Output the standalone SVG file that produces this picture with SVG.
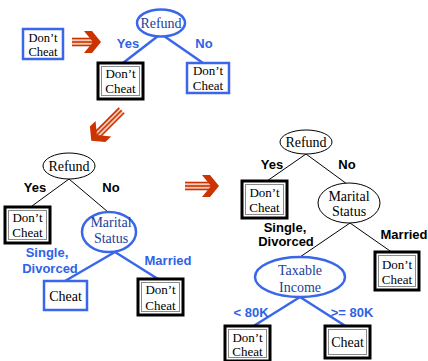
<svg xmlns="http://www.w3.org/2000/svg" width="428" height="361" viewBox="0 0 428 361">
<style>
.bb{fill:#fff;stroke:#3a66ea;stroke-width:2.5}
.kb{fill:#fff;stroke:#000;stroke-width:3}
.kbi{fill:none;stroke:#8a8a8a;stroke-width:1}
.be{fill:#fff;stroke:#3a66ea;stroke-width:2.5}
.ke{fill:#fff;stroke:#000;stroke-width:1}
.t{font-family:"Liberation Serif","Times New Roman",serif;font-size:13px;text-anchor:middle;fill:#000}
.t12{font-size:12.5px}
.t14{font-size:14px}
.tb{fill:#22409a}
.lb{font-family:"Liberation Sans",Arial,sans-serif;font-weight:bold;font-size:13px;text-anchor:middle;fill:#2f62e6}
.lk{fill:#000}
.bl{stroke:#3a66ea;stroke-width:2.5;fill:none}
.kl{stroke:#000;stroke-width:1;fill:none}
.sh{stroke:#cc3300;stroke-width:1.6}
.shf{fill:#f4c9b6}
.hd{fill:#cc3300}
</style>
<defs>
<polygon id="head" points="-16,-11 -8,-11 1,0 -8,11 -16,11 -7,0"/>
</defs>

<g id="connectors">
<line class="bl" x1="158" y1="36" x2="123" y2="63"/>
<line class="bl" x1="164" y1="36" x2="203" y2="63"/>
<line class="kl" x1="69" y1="179" x2="32" y2="206"/>
<line class="kl" x1="69" y1="179" x2="108" y2="212"/>
<line class="bl" x1="115" y1="252" x2="65" y2="281"/>
<line class="bl" x1="115" y1="252" x2="158" y2="279"/>
<line class="kl" x1="306" y1="154" x2="267" y2="181"/>
<line class="kl" x1="306" y1="154" x2="347" y2="184"/>
<line class="kl" x1="350" y1="223" x2="300" y2="257"/>
<line class="kl" x1="350" y1="223" x2="393" y2="253"/>
<line class="bl" x1="300" y1="297" x2="252" y2="327"/>
<line class="bl" x1="300" y1="297" x2="347" y2="327"/>
</g>

<g id="arrows">
<g transform="translate(100,42)">
<rect class="shf" x="-28" y="-4" width="21" height="8"/>
<line class="sh" x1="-28" y1="-3.5" x2="-7" y2="-3.5"/>
<line class="sh" x1="-28" y1="0" x2="-7" y2="0"/>
<line class="sh" x1="-28" y1="3.5" x2="-7" y2="3.5"/>
<use href="#head" class="hd"/>
</g>
<g transform="translate(92,140) rotate(135)">
<rect class="shf" x="-42" y="-4" width="35" height="8"/>
<line class="sh" x1="-42" y1="-3.5" x2="-7" y2="-3.5"/>
<line class="sh" x1="-42" y1="0" x2="-7" y2="0"/>
<line class="sh" x1="-42" y1="3.5" x2="-7" y2="3.5"/>
<use href="#head" class="hd"/>
</g>
<g transform="translate(218,186)">
<rect class="shf" x="-33" y="-4" width="26" height="8"/>
<line class="sh" x1="-33" y1="-3.5" x2="-7" y2="-3.5"/>
<line class="sh" x1="-33" y1="0" x2="-7" y2="0"/>
<line class="sh" x1="-33" y1="3.5" x2="-7" y2="3.5"/>
<use href="#head" class="hd"/>
</g>
</g>

<g id="labels">
<text class="lb" x="128" y="48">Yes</text>
<text class="lb" x="204" y="48">No</text>
<text class="lb lk" x="35" y="192">Yes</text>
<text class="lb lk" x="111" y="192">No</text>
<text class="lb" x="47" y="257">Single,</text>
<text class="lb" x="50" y="273">Divorced</text>
<text class="lb" x="168" y="265">Married</text>
<text class="lb lk" x="272" y="169">Yes</text>
<text class="lb lk" x="347" y="169">No</text>
<text class="lb lk" x="285" y="232">Single,</text>
<text class="lb lk" x="286" y="246">Divorced</text>
<text class="lb lk" x="404" y="239">Married</text>
<text class="lb" x="251" y="317">&lt; 80K</text>
<text class="lb" x="352" y="317">&gt;= 80K</text>
</g>

<g id="n-start">
<rect class="bb" x="23" y="29" width="40" height="30"/>
<text class="t t12" x="43" y="41.5">Don’t</text>
<text class="t t12" x="43" y="55.5">Cheat</text>
</g>

<g id="t1-refund">
<ellipse class="be" cx="161" cy="23" rx="24" ry="13.5"/>
<text class="t t14 tb" x="161" y="28">Refund</text>
</g>
<g id="t1-yes">
<rect class="kb" x="98" y="63" width="45" height="36"/>
<rect class="kbi" x="101.5" y="66.5" width="38" height="29"/>
<text class="t" x="120.5" y="78">Don’t</text>
<text class="t" x="120.5" y="93">Cheat</text>
</g>
<g id="t1-no">
<rect class="bb" x="187" y="63" width="42" height="30"/>
<text class="t" x="208" y="75">Don’t</text>
<text class="t" x="208" y="90">Cheat</text>
</g>

<g id="t2-refund">
<ellipse class="ke" cx="69" cy="166" rx="26" ry="13"/>
<text class="t t14" x="69" y="171">Refund</text>
</g>
<g id="t2-yes">
<rect class="kb" x="5" y="207" width="45" height="36"/>
<rect class="kbi" x="8.5" y="210.5" width="38" height="29"/>
<text class="t" x="27.5" y="222">Don’t</text>
<text class="t" x="27.5" y="237">Cheat</text>
</g>
<g id="t2-marital">
<ellipse class="be" cx="109" cy="232" rx="27" ry="20"/>
<text class="t t14 tb" x="111" y="227">Marital</text>
<text class="t t14 tb" x="111" y="243">Status</text>
</g>
<g id="t2-cheat">
<rect class="bb" x="44" y="281" width="43" height="29"/>
<text class="t t14" x="65.5" y="301">Cheat</text>
</g>
<g id="t2-married">
<rect class="kb" x="138" y="279" width="45" height="36"/>
<rect class="kbi" x="141.5" y="282.5" width="38" height="29"/>
<text class="t" x="160.5" y="294">Don’t</text>
<text class="t" x="160.5" y="310">Cheat</text>
</g>

<g id="t3-refund">
<ellipse class="ke" cx="306" cy="142" rx="26" ry="12"/>
<text class="t t14" x="306" y="147">Refund</text>
</g>
<g id="t3-yes">
<rect class="kb" x="242" y="181" width="45" height="37"/>
<rect class="kbi" x="245.5" y="184.5" width="38" height="30"/>
<text class="t" x="264.5" y="197">Don’t</text>
<text class="t" x="264.5" y="212">Cheat</text>
</g>
<g id="t3-marital">
<ellipse class="ke" cx="349" cy="203" rx="31" ry="20"/>
<text class="t t14" x="349" y="201">Marital</text>
<text class="t t14" x="349" y="216">Status</text>
</g>
<g id="t3-married">
<rect class="kb" x="375" y="252" width="44" height="38"/>
<rect class="kbi" x="378.5" y="255.5" width="37" height="31"/>
<text class="t" x="397" y="269">Don’t</text>
<text class="t" x="397" y="284">Cheat</text>
</g>
<g id="t3-taxable">
<ellipse class="be" cx="300" cy="277" rx="45" ry="20"/>
<text class="t t14 tb" x="300" y="275">Taxable</text>
<text class="t t14 tb" x="300" y="292">Income</text>
</g>
<g id="t3-low">
<rect class="kb" x="225" y="326" width="45" height="35"/>
<rect class="kbi" x="228.5" y="329.5" width="38" height="28"/>
<text class="t" x="247.5" y="342">Don’t</text>
<text class="t" x="247.5" y="356">Cheat</text>
</g>
<g id="t3-high">
<rect class="kb" x="325" y="326" width="45" height="32"/>
<rect class="kbi" x="328.5" y="329.5" width="38" height="25"/>
<text class="t t14" x="347.5" y="347">Cheat</text>
</g>
</svg>
